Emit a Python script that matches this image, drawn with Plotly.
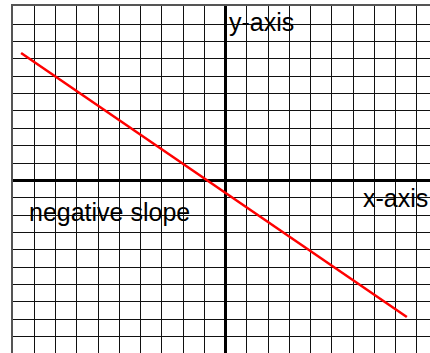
import plotly.graph_objs as go

# end points of the sloped line, in grid units
line_x = [-9.62, 8.53]
line_y = [7.34, -7.88]

labels = ['y-axis', 'x-axis', 'negative slope']
label_x = [0.05, 6.35, -9.34]
label_y = [9.15, -1.0, -1.85]

fig = go.Figure()

fig.add_trace(
    go.Scatter(
        x=line_x,
        y=line_y,
        mode='lines',
        line=dict(color='#ff0000', width=2.5),
        showlegend=False,
        hoverinfo='skip'
    )
)

for text, lx, ly in zip(labels, label_x, label_y):
    fig.add_annotation(
        x=lx, y=ly,
        xref='x', yref='y',
        text=text,
        showarrow=False,
        xanchor='left',
        yanchor='middle',
        font=dict(family='Liberation Sans, Arial, sans-serif', size=25, color='#000000')
    )

fig.update_layout(
    width=430,
    height=353,
    margin=dict(l=13, r=0, t=6, b=0),
    plot_bgcolor='#ffffff',
    paper_bgcolor='#ffffff',
    showlegend=False
)

fig.update_xaxes(
    range=[-10, 9.62],
    dtick=1,
    tick0=0,
    side='top',
    showticklabels=False,
    ticks='',
    showgrid=True,
    gridcolor='#111111',
    gridwidth=1,
    zeroline=True,
    zerolinecolor='#000000',
    zerolinewidth=3,
    showline=True,
    linecolor='#555555',
    linewidth=2
)

fig.update_yaxes(
    range=[-9.95, 10.05],
    dtick=1,
    tick0=0,
    showticklabels=False,
    ticks='',
    showgrid=True,
    gridcolor='#111111',
    gridwidth=1,
    zeroline=True,
    zerolinecolor='#000000',
    zerolinewidth=3,
    showline=True,
    linecolor='#555555',
    linewidth=2
)

# page body has a default 8px margin, drop it so the figure sits at the corner
fig.write_html(
    "out.html",
    config={'displayModeBar': False},
    post_script="document.body.style.margin='0';"
)
